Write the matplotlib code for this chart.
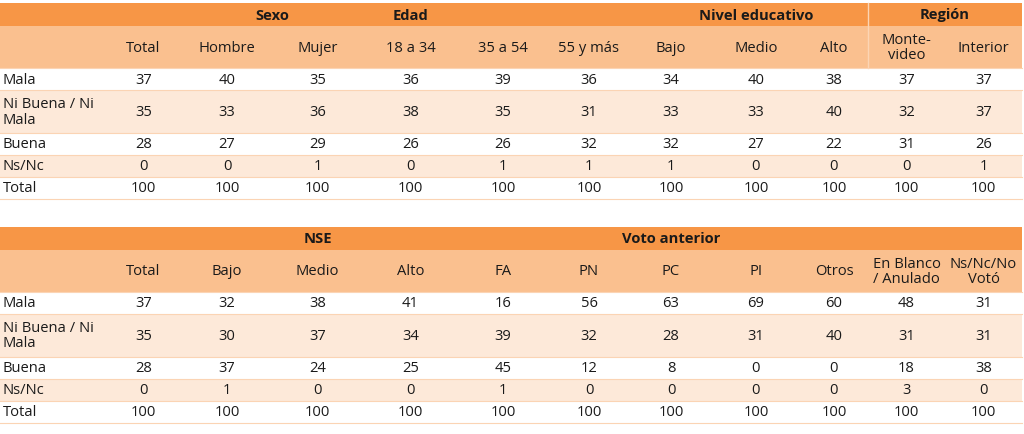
import matplotlib
matplotlib.use("Agg")
import matplotlib.pyplot as plt
from matplotlib.patches import Rectangle

rows = ["Mala", "Ni Buena / Ni\nMala", "Buena", "Ns/Nc", "Total"]

t1_groups = [("Sexo", 2, 3), ("Edad", 4, 4), ("Nivel educativo", 8, 8), ("Región", 10, 11)]
t1_cols = ["Total", "Hombre", "Mujer", "18 a 34", "35 a 54", "55 y más", "Bajo", "Medio", "Alto", "Monte-\nvideo", "Interior"]
t1_mala = [37, 40, 35, 36, 39, 36, 34, 40, 38, 37, 37]
t1_ni = [35, 33, 36, 38, 35, 31, 33, 33, 40, 32, 37]
t1_buena = [28, 27, 29, 26, 26, 32, 32, 27, 22, 31, 26]
t1_nsnc = [0, 0, 1, 0, 1, 1, 1, 0, 0, 0, 1]
t1_total = [100] * 11

t2_groups = [("NSE", 3, 3), ("Voto anterior", 7, 7)]
t2_cols = ["Total", "Bajo", "Medio", "Alto", "FA", "PN", "PC", "PI", "Otros", "En Blanco\n/ Anulado", "Ns/Nc/No\nVotó"]
t2_mala = [37, 32, 38, 41, 16, 56, 63, 69, 60, 48, 31]
t2_ni = [35, 30, 37, 34, 39, 32, 28, 31, 40, 31, 31]
t2_buena = [28, 37, 24, 25, 45, 12, 8, 0, 0, 18, 38]
t2_nsnc = [0, 1, 0, 0, 1, 0, 0, 0, 0, 3, 0]
t2_total = [100] * 11

edges = [0, 105, 182, 272, 363, 458, 548, 630, 712, 800, 868, 945, 1022]
DARK = "#F79646"
MID = "#FAC08F"
LIGHT = "#FDE9D9"
FONT = "Open Sans"
FS = 10.6
TC = "#1a1a1a"

fig = plt.figure(figsize=(10.24, 4.35), dpi=100)
ax = fig.add_axes([0, 0, 1, 1])
ax.set_xlim(0, 1024)
ax.set_ylim(435, 0)
ax.axis("off")

def cx(i):
    return (edges[i] + edges[i + 1]) / 2

def draw(top, groups, cols, data, region_line):
    h1, h2 = 23, 42
    rh = [22, 43, 22, 22, 22]
    ax.add_patch(Rectangle((0, top), 1022, h1, color=DARK, lw=0))
    ax.add_patch(Rectangle((0, top + h1), 1022, h2, color=MID, lw=0))
    for name, a, b in groups:
        xc = (cx(a) + cx(b)) / 2
        ax.text(xc, top + h1 / 2, name, ha="center", va="center", fontsize=FS, fontweight="bold", family=FONT, color=TC)
    for i, c in enumerate(cols):
        ax.text(cx(i + 1), top + h1 + h2 / 2, c, ha="center", va="center", fontsize=FS, family=FONT, linespacing=1.0, color=TC)
    if region_line:
        ax.plot([868, 868], [top, top + h1 + h2], color="#FCD5B4", lw=1)
    y = top + h1 + h2
    for r, (lab, vals) in enumerate(zip(rows, data)):
        col = "white" if r % 2 == 0 else LIGHT
        ax.add_patch(Rectangle((0, y), 1022, rh[r], color=col, lw=0))
        ax.plot([0, 1022], [y, y], color="#FBD4B4", lw=0.8)
        ax.text(3, y + rh[r] / 2, lab, ha="left", va="center", fontsize=FS, family=FONT, linespacing=1.0, color=TC)
        for i, v in enumerate(vals):
            ax.text(cx(i + 1), y + rh[r] / 2, str(v), ha="center", va="center", fontsize=FS, family=FONT, color=TC)
        y += rh[r]
    ax.plot([0, 1022], [y, y], color="#FBD4B4", lw=0.8)

draw(4, t1_groups, t1_cols, [t1_mala, t1_ni, t1_buena, t1_nsnc, t1_total], True)
draw(228, t2_groups, t2_cols, [t2_mala, t2_ni, t2_buena, t2_nsnc, t2_total], False)

fig.savefig("out.png", dpi=100)
